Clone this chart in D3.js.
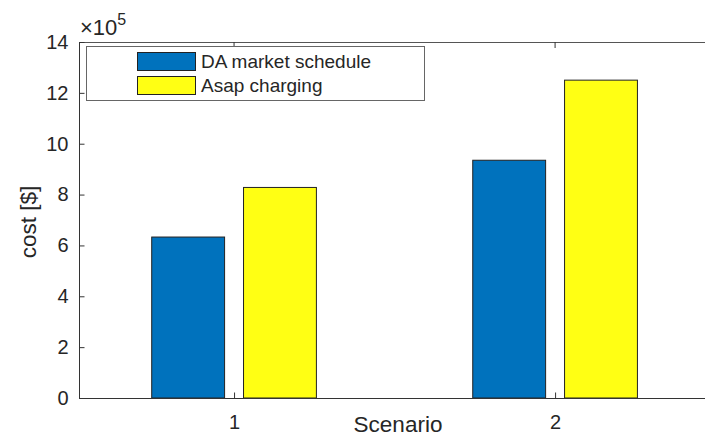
<!DOCTYPE html>
<html><head><meta charset="utf-8">
<script src="https://cdn.jsdelivr.net/npm/d3@7"></script>
<style>body{margin:0;background:#fff;}svg{display:block;font-family:"Liberation Sans",Arial,sans-serif;}</style>
</head><body>
<svg id="c" width="705" height="436"></svg>
<script>
const scenarios = [1, 2];
const seriesNames = ["DA market schedule", "Asap charging"];
const daMarket = [6.33, 9.35];   // x10^5 $
const asapCharging = [8.28, 12.5]; // x10^5 $
const yTicks = [0, 2, 4, 6, 8, 10, 12, 14];
const colors = ["#0072BD", "#FFFF14"];

const svg = d3.select("#c");
const L = 79, T = 42, B = 398;
const x = d3.scaleLinear().domain([0.517, 2.5]).range([L, 715.6]);
const y = d3.scaleLinear().domain([0, 14]).range([B, T]);
const axisColor = "#333";

// bars
const off = 0.143, bw = 0.227;
const series = [daMarket, asapCharging];
series.forEach((vals, si) => {
  svg.append("g").selectAll("rect").data(scenarios).enter().append("rect")
    .attr("x", (d, i) => x(d + (si === 0 ? -off : off) - bw / 2))
    .attr("width", x(bw) - x(0))
    .attr("y", (d, i) => y(vals[i]))
    .attr("height", (d, i) => y(0) - y(vals[i]))
    .attr("fill", colors[si])
    .attr("stroke", "#222").attr("stroke-width", 1);
});

// box lines
svg.append("line").attr("x1", L).attr("x2", 705).attr("y1", T + 0.5).attr("y2", T + 0.5).attr("stroke", "#555");
// axes
const yAxis = d3.axisLeft(y).tickValues(yTicks).tickSize(-5).tickPadding(11);
const gy = svg.append("g").attr("transform", `translate(${L + 0.5},0)`).call(yAxis);
const xAxis = d3.axisBottom(x).tickValues(scenarios).tickSize(-6).tickPadding(16).tickFormat(d3.format("d"));
const gx = svg.append("g").attr("transform", `translate(0,${B + 0.5})`).call(xAxis);
[gx, gy].forEach(g => {
  g.selectAll(".tick line").attr("stroke", axisColor);
  g.selectAll("text").attr("fill", "#262626").style("font-size", "20px").style("font-family", "Liberation Sans, Arial, sans-serif");
});
gy.select(".domain").remove();
gx.select(".domain").remove();
svg.append("line").attr("x1", L + 0.5).attr("x2", L + 0.5).attr("y1", T).attr("y2", B + 1).attr("stroke", axisColor);
svg.append("line").attr("x1", L).attr("x2", 705).attr("y1", B + 0.5).attr("y2", B + 0.5).attr("stroke", axisColor);
// top ticks
svg.append("g").selectAll("line").data(scenarios).enter().append("line")
  .attr("x1", d => x(d)).attr("x2", d => x(d)).attr("y1", T).attr("y2", T + 6).attr("stroke", axisColor);
gx.selectAll("text").attr("dy", "0.71em");

// exponent label
const ex = svg.append("text").attr("x", L + 1).attr("y", 35).attr("fill", "#262626").style("font-size", "22px");
ex.append("tspan").text("×10");
ex.append("tspan").attr("dy", -10).style("font-size", "16px").text("5");

// axis labels
svg.append("text").attr("x", 398).attr("y", 432).attr("text-anchor", "middle")
  .attr("fill", "#262626").style("font-size", "22.5px").text("Scenario");
svg.append("text").attr("transform", "translate(36,222) rotate(-90)").attr("text-anchor", "middle")
  .attr("fill", "#262626").style("font-size", "22.5px").text("cost [$]");

// legend
const lg = svg.append("g");
lg.append("rect").attr("x", 86.5).attr("y", 46.5).attr("width", 338).attr("height", 54)
  .attr("fill", "#fff").attr("stroke", "#666");
seriesNames.forEach((n, i) => {
  lg.append("rect").attr("x", 137.5).attr("y", 52.5 + i * 24).attr("width", 58).attr("height", 18)
    .attr("fill", colors[i]).attr("stroke", "#222");
  lg.append("text").attr("x", 201).attr("y", 68 + i * 24).attr("fill", "#262626")
    .style("font-size", "19px").text(n);
});
</script>
</body></html>
